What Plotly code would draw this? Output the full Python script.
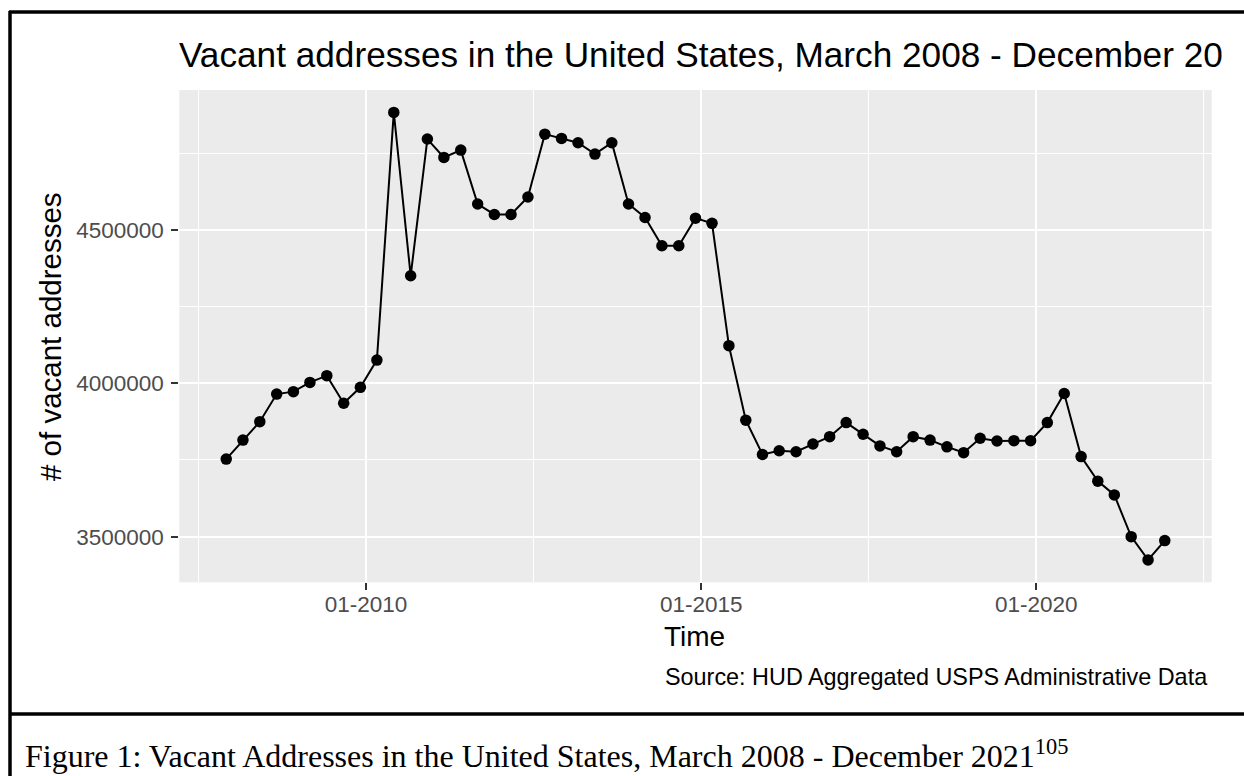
import plotly.graph_objects as go
import pandas as pd

# ---------------- data ----------------
dates = [
    "2007-12-01", "2008-03-01", "2008-06-01", "2008-09-01",
    "2008-12-01", "2009-03-01", "2009-06-01", "2009-09-01",
    "2009-12-01", "2010-03-01", "2010-06-01", "2010-09-01",
    "2010-12-01", "2011-03-01", "2011-06-01", "2011-09-01",
    "2011-12-01", "2012-03-01", "2012-06-01", "2012-09-01",
    "2012-12-01", "2013-03-01", "2013-06-01", "2013-09-01",
    "2013-12-01", "2014-03-01", "2014-06-01", "2014-09-01",
    "2014-12-01", "2015-03-01", "2015-06-01", "2015-09-01",
    "2015-12-01", "2016-03-01", "2016-06-01", "2016-09-01",
    "2016-12-01", "2017-03-01", "2017-06-01", "2017-09-01",
    "2017-12-01", "2018-03-01", "2018-06-01", "2018-09-01",
    "2018-12-01", "2019-03-01", "2019-06-01", "2019-09-01",
    "2019-12-01", "2020-03-01", "2020-06-01", "2020-09-01",
    "2020-12-01", "2021-03-01", "2021-06-01", "2021-09-01",
    "2021-12-01",
]
vacant = [
    3753000, 3815000, 3875000, 3965000, 3973000, 4003000, 4025000, 3935000,
    3987000, 4076000, 4884000, 4351000, 4797000, 4737000, 4761000, 4585000,
    4551000, 4551000, 4608000, 4813000, 4799000, 4785000, 4748000, 4785000,
    4585000, 4541000, 4449000, 4449000, 4539000, 4522000, 4123000, 3880000,
    3768000, 3780000, 3777000, 3802000, 3826000, 3872000, 3834000, 3796000,
    3777000, 3826000, 3815000, 3793000, 3774000, 3821000, 3812000, 3813000,
    3813000, 3872000, 3967000, 3761000, 3681000, 3636000, 3500000, 3424000,
    3487000,
]
y_ticks = [3500000, 4000000, 4500000]
x_ticks = ["2010-01-01", "2015-01-01", "2020-01-01"]

title_text = "Vacant addresses in the United States, March 2008 - December 20"
x_title = "Time"
y_title = "# of vacant addresses"
source_text = "Source: HUD Aggregated USPS Administrative Data"
caption_text = ("Figure 1: Vacant Addresses in the United States, "
                "March 2008 - December 2021<sup>105</sup>")

# ---------------- layout helpers ----------------
W, H = 1244, 776


def px(x):
    return x / W


def py(y):
    return 1 - y / H


# ggplot-like 5% expansion of scales
d = pd.to_datetime(pd.Series(dates))
span = d.max() - d.min()
x_range = [d.min() - span * 0.05, d.max() + span * 0.05]
vmin, vmax = min(vacant), max(vacant)
y_range = [vmin - (vmax - vmin) * 0.05, vmax + (vmax - vmin) * 0.05]

SANS = "Liberation Sans, Arial, sans-serif"
SERIF = "Liberation Serif, Times New Roman, serif"

fig = go.Figure()
fig.add_trace(go.Scatter(
    x=dates, y=vacant, mode="lines+markers",
    line=dict(color="black", width=2),
    marker=dict(color="black", size=11.5),
    showlegend=False, hoverinfo="x+y",
))

fig.update_layout(
    width=W, height=H,
    margin=dict(l=0, r=0, t=0, b=0),
    paper_bgcolor="white",
    plot_bgcolor="#EBEBEB",
    showlegend=False,
    xaxis=dict(
        domain=[px(179.3), px(1211.7)],
        type="date",
        range=x_range,
        tickvals=x_ticks,
        tickformat="%m-%Y",
        ticks="outside", ticklen=7, tickwidth=1.5, tickcolor="#333333",
        tickfont=dict(family=SANS, size=22.5, color="#4D4D4D"),
        ticklabelstandoff=-5,
        showgrid=True, gridcolor="white", gridwidth=2,
        minor=dict(dtick="M30", tick0="2010-01-01", showgrid=True,
                   gridcolor="white", gridwidth=1, ticks=""),
        zeroline=False, showline=False,
    ),
    yaxis=dict(
        domain=[py(582.3), py(90)],
        range=y_range,
        tickvals=y_ticks,
        tickformat="d",
        ticks="outside", ticklen=7, tickwidth=1.5, tickcolor="#333333",
        tickfont=dict(family=SANS, size=22.5, color="#4D4D4D"),
        ticklabelstandoff=3,
        showgrid=True, gridcolor="white", gridwidth=2,
        minor=dict(dtick=250000, tick0=0, showgrid=True,
                   gridcolor="white", gridwidth=1, ticks=""),
        zeroline=False, showline=False,
    ),
)

annots = [
    dict(text=title_text, x=px(177), y=py(55), xanchor="left", yanchor="middle",
         font=dict(family=SANS, size=35.2, color="black")),
    dict(text=y_title, x=px(50), y=py(337), xanchor="center", yanchor="middle",
         textangle=-90, font=dict(family=SANS, size=29.5, color="black")),
    dict(text=x_title, x=px(694), y=py(636), xanchor="center", yanchor="middle",
         font=dict(family=SANS, size=28, color="black")),
    dict(text=source_text, x=px(1210), y=py(677), xanchor="right", yanchor="middle",
         font=dict(family=SANS, size=23.4, color="black")),
    dict(text=caption_text, x=px(23), y=py(754), xanchor="left", yanchor="middle",
         font=dict(family=SERIF, size=32, color="black")),
]
for a in annots:
    fig.add_annotation(xref="paper", yref="paper", showarrow=False, **a)

# outer frame lines
frame = [
    (9, 12, W, 12),
    (10, 11, 10, H),
    (9, 714, W, 714),
]
for x0, y0, x1, y1 in frame:
    fig.add_shape(type="line", xref="paper", yref="paper",
                  x0=px(x0), y0=py(y0), x1=px(x1), y1=py(y1),
                  line=dict(color="black", width=3.5))

fig.write_html(
    "out.html",
    config={"displayModeBar": False},
    post_script="document.body.style.margin='0';document.body.style.overflow='hidden';",
)
